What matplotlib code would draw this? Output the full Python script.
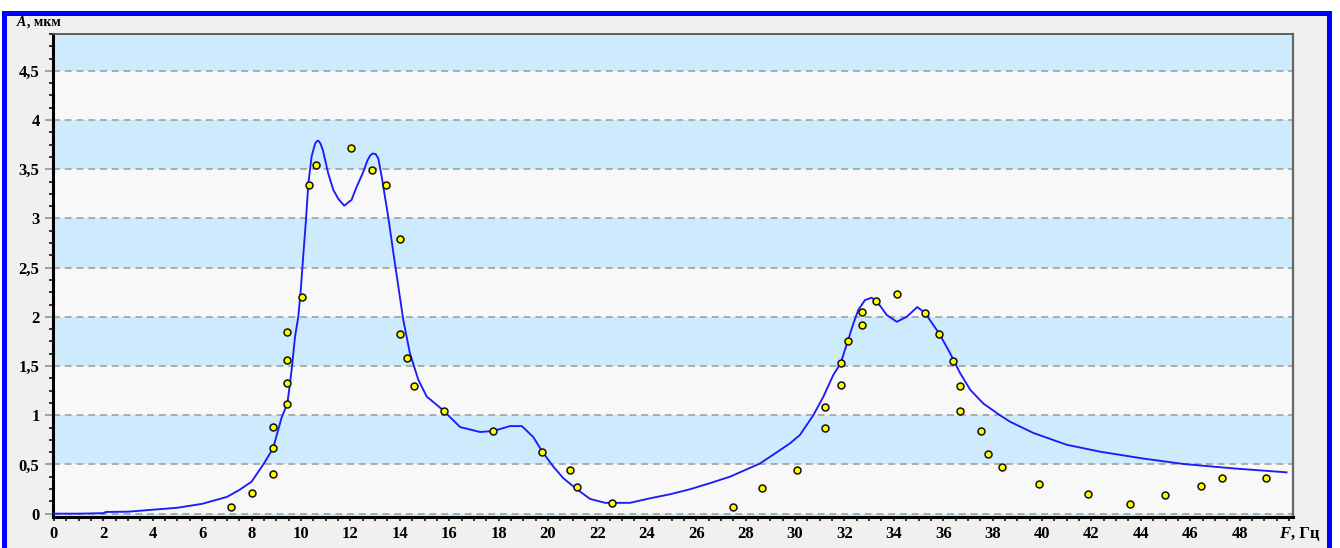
import matplotlib
matplotlib.use("Agg")
import matplotlib.pyplot as plt
from matplotlib.patches import Rectangle
from matplotlib.ticker import MultipleLocator

# ---- data ----
curve_f = [0, 1, 2, 2.1, 3, 4, 5, 6, 7, 7.5, 8, 8.5, 8.87, 9.22, 9.45, 9.62, 9.76,
           9.89, 9.99, 10.1, 10.2, 10.3, 10.43, 10.57, 10.64, 10.70, 10.78, 10.88,
           11.1, 11.31, 11.51, 11.75, 12.05, 12.25, 12.5, 12.69, 12.8, 12.9, 13.02,
           13.13, 13.27, 13.4, 13.53, 13.74, 13.94, 14.14, 14.41, 14.75, 15.09, 15.76,
           16.44, 17.25, 17.79, 18.46, 18.94, 19.4, 19.77, 20.21, 20.62, 21.16, 21.7,
           22.31, 23.32, 24.13, 24.94, 25.75, 26.56, 27.37, 28.04, 28.58, 29.3, 29.8,
           30.2, 30.74, 31.15, 31.55, 31.85, 32.13, 32.36, 32.56, 32.83, 33.1, 33.31,
           33.71, 34.12, 34.52, 34.95, 35.26, 35.84, 36.28, 36.68, 37.09, 37.62, 38.3,
           38.7, 39.65, 41.0, 42.35, 44.1, 45.72, 47.74, 49.9]
curve_a = [0, 0, 0.005, 0.017, 0.02, 0.04, 0.06, 0.10, 0.17, 0.24, 0.325, 0.51, 0.665,
           0.98, 1.12, 1.46, 1.80, 2.0, 2.27, 2.65, 2.98, 3.36, 3.63, 3.76, 3.785,
           3.79, 3.765, 3.70, 3.46, 3.29, 3.20, 3.13, 3.19, 3.32, 3.46, 3.59, 3.64,
           3.66, 3.655, 3.61, 3.42, 3.22, 3.02, 2.65, 2.31, 1.97, 1.63, 1.36, 1.19, 1.05,
           0.88, 0.83, 0.84, 0.89, 0.89, 0.78, 0.63, 0.48, 0.36, 0.25, 0.15, 0.11, 0.11,
           0.156, 0.197, 0.248, 0.31, 0.376, 0.45, 0.51, 0.63, 0.715, 0.80, 1.0, 1.19,
           1.41, 1.53, 1.75, 1.93, 2.07, 2.17, 2.195, 2.16, 2.02, 1.95, 2.0, 2.10, 2.04,
           1.83, 1.63, 1.43, 1.26, 1.12, 1.0, 0.935, 0.82, 0.70, 0.63, 0.56, 0.505,
           0.46, 0.42]

meas_f = [7.17, 8.02, 8.87, 8.87, 8.87, 9.45, 9.45, 9.45, 9.45, 10.04, 10.31, 10.61,
          12.01, 12.87, 13.45, 14.0, 14.0, 14.28, 14.57, 15.78, 17.79, 19.77, 20.9,
          21.19, 22.6, 27.5, 28.65, 30.07, 31.2, 31.2, 31.85, 31.85, 32.13, 32.7, 32.7,
          33.28, 34.13, 35.26, 35.84, 36.41, 36.68, 36.68, 37.51, 37.81, 38.39, 39.89,
          41.87, 43.56, 44.99, 46.42, 47.27, 49.06]
meas_a = [0.07, 0.21, 0.40, 0.67, 0.88, 1.11, 1.33, 1.56, 1.85, 2.20, 3.34, 3.54,
          3.72, 3.49, 3.34, 2.79, 1.83, 1.58, 1.30, 1.04, 0.84, 0.63, 0.44, 0.27, 0.11,
          0.065, 0.26, 0.44, 0.87, 1.08, 1.31, 1.53, 1.75, 1.92, 2.05, 2.16, 2.23, 2.04,
          1.83, 1.55, 1.30, 1.04, 0.84, 0.61, 0.47, 0.30, 0.20, 0.095, 0.19, 0.28, 0.36,
          0.36]

x_ticks = list(range(0, 50, 2))
x_tick_labels = [str(v) for v in x_ticks]
y_ticks = [0, 0.5, 1, 1.5, 2, 2.5, 3, 3.5, 4, 4.5]
y_tick_labels = ["0", "0,5", "1", "1,5", "2", "2,5", "3", "3,5", "4", "4,5"]
x_label_var, x_label_unit = "F", ", Гц"
y_label_var, y_label_unit = "A", ", мкм"

# ---- figure ----
W, H = 1340, 548
fig = plt.figure(figsize=(W / 100, H / 100), dpi=100, facecolor="white")
fig.patches.append(Rectangle((4 / W, -0.05), (1329 - 4) / W, (H - 12.5) / H + 0.05,
                             transform=fig.transFigure, facecolor="#f0f0f0",
                             edgecolor="#0000ff", linewidth=3.6, zorder=-5))

ax = fig.add_axes([52.5 / W, 1 - 517 / H, (1292.5 - 52.5) / W, (517 - 34) / H])
ax.set_zorder(2)
ax.set_xlim(-0.06, 50.14)
ax.set_ylim(-0.034, 4.875)
ax.set_facecolor("#f8f8f8")

# alternating bands
blue_band = "#cdebfc"
for lo in [-0.5, 0.5, 1.5, 2.5, 3.5, 4.5]:
    ax.axhspan(lo, lo + 0.5, facecolor=blue_band, edgecolor="none", zorder=0.5)
for yv in y_ticks:
    ax.axhline(yv, color="#9a9a9a", lw=1.1, linestyle=(0, (4.5, 3.2)), zorder=1)

ax.plot(curve_f, curve_a, color="#1c1cf8", lw=1.35, zorder=3,
        solid_joinstyle="round")
ax.plot(meas_f, meas_a, linestyle="none", marker="o", markersize=5.0,
        markerfacecolor="#ffff00", markeredgecolor="#111111", markeredgewidth=1.1,
        zorder=4)

# spines
for s in ["left", "bottom"]:
    ax.spines[s].set_linewidth(2.2)
    ax.spines[s].set_color("black")
ax.spines["top"].set_linewidth(1.3)
ax.spines["top"].set_color("#555555")
ax.spines["right"].set_linewidth(1.6)
ax.spines["right"].set_color("#666666")

tick_font = dict(family="Liberation Serif", weight="bold", size=12)
ax.set_xticks(x_ticks)
ax.set_xticklabels(x_tick_labels, fontdict=tick_font)
ax.set_yticks(y_ticks)
ax.set_yticklabels(y_tick_labels, fontdict=tick_font)
ax.xaxis.set_minor_locator(MultipleLocator(0.5))
ax.yaxis.set_minor_locator(MultipleLocator(0.125))
ax.tick_params(axis="x", which="both", direction="out", length=3.0, width=1.1,
               color="black")
ax.tick_params(axis="x", which="major", pad=3.5)
ax.tick_params(axis="y", which="major", direction="out", length=5.8, width=1.1,
               color="#8a8a8a", pad=3.5)
ax.tick_params(axis="y", which="minor", direction="out", length=2.6, width=1.1,
               color="black")


def two_part_label(x_px, y_px, var, unit, size):
    t1 = fig.text(x_px / W, 1 - y_px / H, var, family="Liberation Serif",
                  style="italic", weight="bold", size=size, va="baseline", ha="left")
    fig.canvas.draw()
    bb = t1.get_window_extent()
    fig.text((bb.x1 + 0.5) / W, 1 - y_px / H, unit, family="Liberation Serif",
             weight="bold", size=size, va="baseline", ha="left")


two_part_label(17, 26, y_label_var, y_label_unit, 10)
two_part_label(1279, 538, x_label_var, x_label_unit, 12)

fig.savefig("out.png", dpi=100, facecolor=fig.get_facecolor())
